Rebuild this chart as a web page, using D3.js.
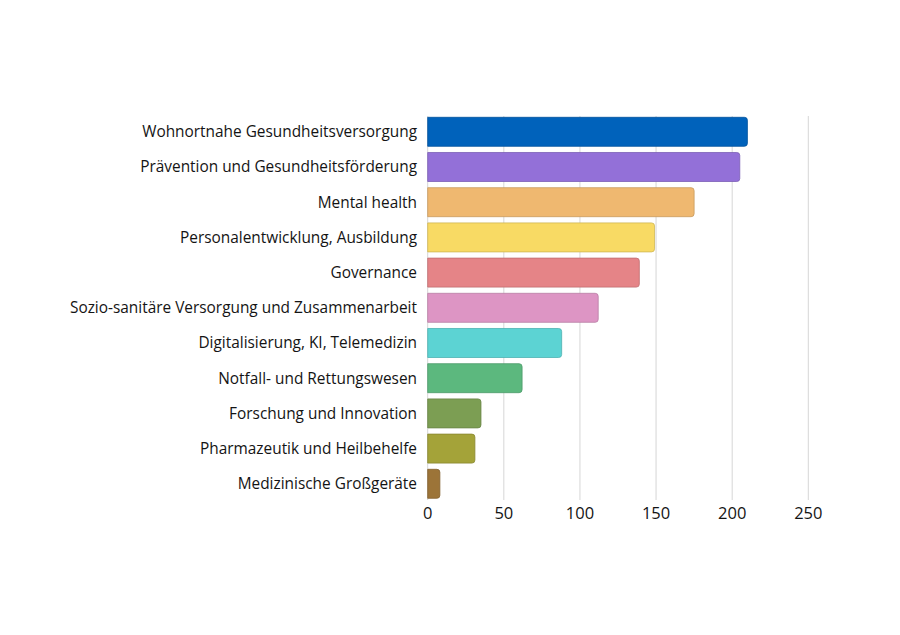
<!DOCTYPE html>
<html>
<head>
<meta charset="utf-8">
<script src="https://cdn.jsdelivr.net/npm/d3@7"></script>
<style>
  body { margin: 0; background: #fff; }
  text { font-family: "Open Sans", "Noto Sans", sans-serif; fill: #141414; }
</style>
</head>
<body>
<div id="chart"></div>
<script>
var categories = [
    "Wohnortnahe Gesundheitsversorgung",
    "Prävention und Gesundheitsförderung",
    "Mental health",
    "Personalentwicklung, Ausbildung",
    "Governance",
    "Sozio-sanitäre Versorgung und Zusammenarbeit",
    "Digitalisierung, KI, Telemedizin",
    "Notfall- und Rettungswesen",
    "Forschung und Innovation",
    "Pharmazeutik und Heilbehelfe",
    "Medizinische Großgeräte"
];
var values = [210, 205, 175, 149, 139, 112, 88, 62, 35, 31, 8];
var barColors = [
    "#0062bb", "#9370d8", "#efb870", "#f8da64", "#e58487", "#dd95c4",
    "#5cd3d3", "#5cb87e", "#7c9e53", "#a4a339", "#9c7438"
];
var xTicks = [0, 50, 100, 150, 200, 250];

var width = 900, height = 635;

var svg = d3.select("#chart").append("svg")
    .attr("width", width)
    .attr("height", height);

var x = d3.scaleLinear()
    .domain([0, 250])
    .range([427.7, 808.3]);

var y = d3.scaleBand()
    .domain(categories)
    .range([114.2, 501.4])
    .paddingInner(0.176)
    .paddingOuter(0.088);

// gridlines
svg.append("g")
    .selectAll("line")
    .data(xTicks)
    .enter().append("line")
        .attr("x1", function(d) { return x(d); })
        .attr("x2", function(d) { return x(d); })
        .attr("y1", 116)
        .attr("y2", 500)
        .attr("stroke", "#d6d6d6")
        .attr("stroke-width", 1);

// bars: square left edge, rounded right end
function barPath(d, i) {
    var x0 = x(0), x1 = x(d), y0 = y(categories[i]), h = y.bandwidth();
    var r = Math.min(3, (x1 - x0) / 2);
    return "M" + x0 + "," + y0 +
        "H" + (x1 - r) +
        "Q" + x1 + "," + y0 + " " + x1 + "," + (y0 + r) +
        "V" + (y0 + h - r) +
        "Q" + x1 + "," + (y0 + h) + " " + (x1 - r) + "," + (y0 + h) +
        "H" + x0 + "Z";
}

svg.append("g")
    .selectAll("path")
    .data(values)
    .enter().append("path")
        .attr("d", barPath)
        .attr("fill", function(d, i) { return barColors[i]; })
        .attr("stroke", function(d, i) { return d3.color(barColors[i]).darker(0.5); })
        .attr("stroke-width", 0.8);

// category labels
svg.append("g")
    .selectAll("text")
    .data(categories)
    .enter().append("text")
        .attr("x", 417)
        .attr("y", function(d) { return y(d) + y.bandwidth() / 2; })
        .attr("dy", "0.35em")
        .attr("text-anchor", "end")
        .style("font-size", "15.4px")
        .text(function(d) { return d; });

// x tick labels
svg.append("g")
    .selectAll("text")
    .data(xTicks)
    .enter().append("text")
        .attr("x", function(d) { return x(d); })
        .attr("y", 513)
        .attr("dy", "0.35em")
        .attr("text-anchor", "middle")
        .style("font-size", "16.5px")
        .text(function(d) { return d; });
</script>
</body>
</html>
